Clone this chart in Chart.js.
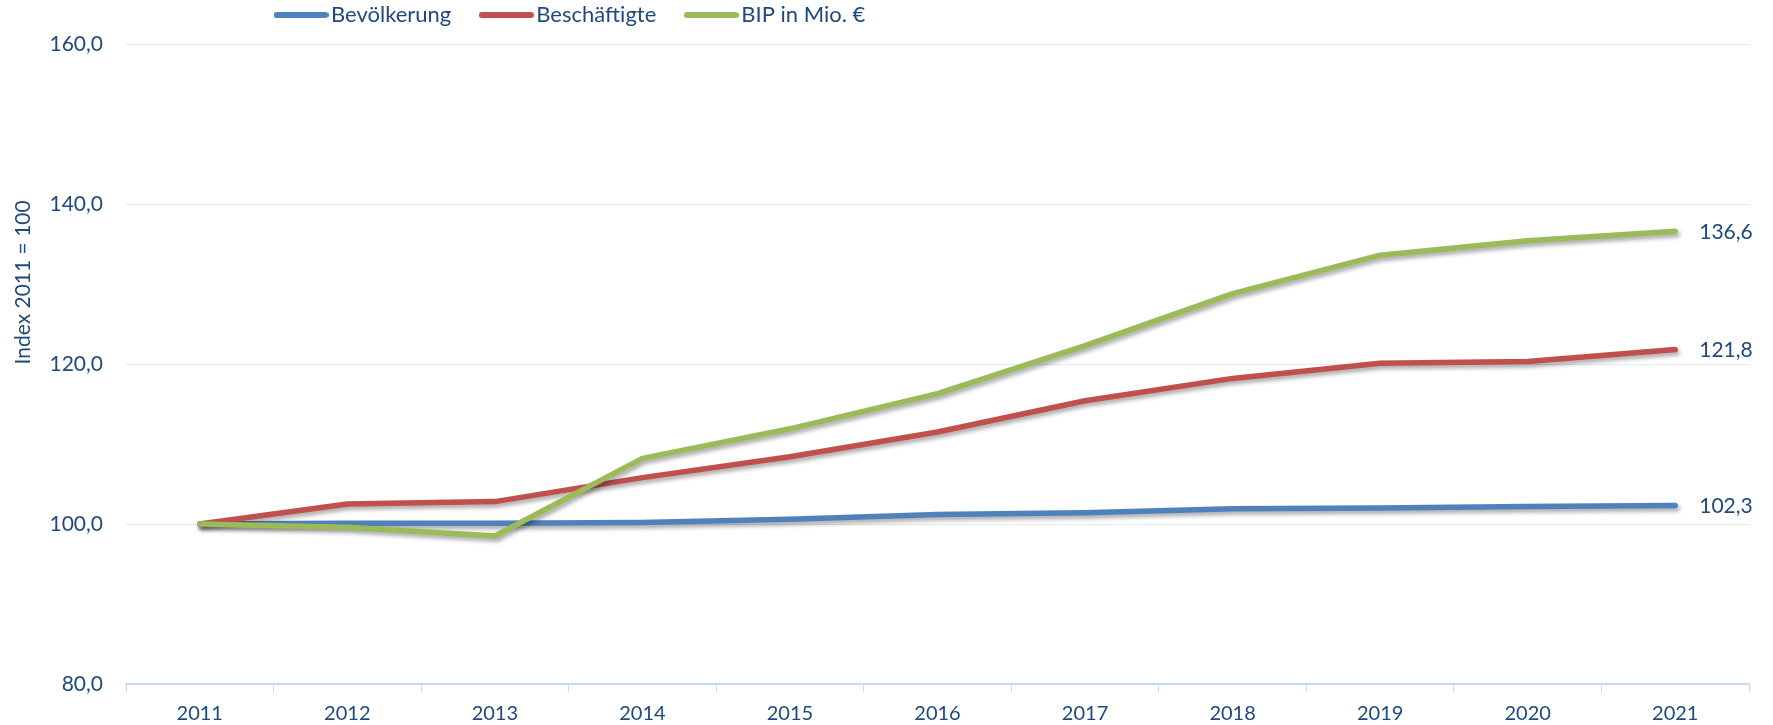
<!DOCTYPE html>
<html>
<head>
<meta charset="utf-8">
<script src="https://cdn.jsdelivr.net/npm/chart.js@4/dist/chart.umd.min.js"></script>
<style>
  html, body { margin: 0; padding: 0; background: #ffffff; }
  #wrap { width: 1773px; height: 725px; }
</style>
</head>
<body>
<div id="wrap"><canvas id="c" width="1773" height="725"></canvas></div>
<script>
// ---- data ----
const categories = ['2011','2012','2013','2014','2015','2016','2017','2018','2019','2020','2021'];
const seriesNames = ['Bevölkerung', 'Beschäftigte', 'BIP in Mio. €'];
const bevoelkerung = [100.0, 100.1, 100.1, 100.2, 100.6, 101.2, 101.4, 101.9, 102.0, 102.2, 102.3];
const beschaeftigte = [100.0, 102.5, 102.8, 105.8, 108.4, 111.5, 115.4, 118.2, 120.1, 120.3, 121.8];
const bip = [100.0, 99.6, 98.5, 108.2, 111.9, 116.3, 122.3, 128.8, 133.6, 135.4, 136.6];
const yTicks = [80, 100, 120, 140, 160];
const yAxisTitle = 'Index 2011 = 100';

const TEXT = '#1F497D';
const COLORS = ['#4F81BD', '#C0504D', '#9BBB59'];
const fmt = v => v.toFixed(1).replace('.', ',');

// legend marker: a thick line with round caps
function lineMarker(color) {
  const cv = document.createElement('canvas');
  cv.width = 55; cv.height = 8;
  const c = cv.getContext('2d');
  c.strokeStyle = color;
  c.lineWidth = 6;
  c.lineCap = 'round';
  c.beginPath();
  c.moveTo(3, 4);
  c.lineTo(52, 4);
  c.stroke();
  return cv;
}

const shadowPlugin = {
  id: 'lineShadow',
  beforeDatasetDraw(chart) {
    const ctx = chart.ctx;
    ctx.save();
    ctx.shadowColor = 'rgba(0,0,0,0.35)';
    ctx.shadowBlur = 4;
    ctx.shadowOffsetX = 2;
    ctx.shadowOffsetY = 3;
  },
  afterDatasetDraw(chart) {
    chart.ctx.restore();
  }
};

const endLabels = {
  id: 'endLabels',
  afterDatasetsDraw(chart) {
    const ctx = chart.ctx;
    ctx.save();
    ctx.font = '21px Lato';
    ctx.fillStyle = TEXT;
    ctx.textAlign = 'left';
    ctx.textBaseline = 'middle';
    chart.data.datasets.forEach((ds, i) => {
      const meta = chart.getDatasetMeta(i);
      const pt = meta.data[meta.data.length - 1];
      ctx.fillText(fmt(ds.data[ds.data.length - 1]), pt.x + 24, pt.y + 1);
    });
    ctx.restore();
  }
};

const axisTitle = {
  id: 'axisTitle',
  afterDraw(chart) {
    const ctx = chart.ctx;
    const y = chart.scales.y;
    ctx.save();
    ctx.font = '21px Lato';
    ctx.fillStyle = TEXT;
    ctx.textAlign = 'center';
    ctx.textBaseline = 'middle';
    ctx.translate(23, y.getPixelForValue(130.2));
    ctx.rotate(-Math.PI / 2);
    ctx.fillText(yAxisTitle, 0, 0);
    ctx.restore();
  }
};

const legendPos = {
  id: 'legendPos',
  afterLayout(chart) {
    const lg = chart.legend;
    lg.top = -32;
    lg.left = 246;
  }
};

const markers = COLORS.map(lineMarker);

new Chart(document.getElementById('c'), {
  type: 'line',
  data: {
    labels: categories,
    datasets: [
      { label: seriesNames[0], data: bevoelkerung, borderColor: COLORS[0], backgroundColor: COLORS[0], borderWidth: 5.5, pointStyle: markers[0], order: 2 },
      { label: seriesNames[1], data: beschaeftigte, borderColor: COLORS[1], backgroundColor: COLORS[1], borderWidth: 5.5, pointStyle: markers[1], order: 1 },
      { label: seriesNames[2], data: bip, borderColor: COLORS[2], backgroundColor: COLORS[2], borderWidth: 5.5, pointStyle: markers[2], order: 0 }
    ]
  },
  options: {
    responsive: false,
    animation: false,
    devicePixelRatio: 1,
    layout: { padding: { left: 0, right: 24, top: -24, bottom: 0 } },
    elements: {
      line: { tension: 0, borderCapStyle: 'round', borderJoinStyle: 'round', fill: false },
      point: { radius: 0, hoverRadius: 0 }
    },
    plugins: {
      tooltip: { enabled: false },
      legend: {
        position: 'top',
        align: 'start',
        labels: {
          font: { family: 'Lato', size: 22 },
          color: TEXT,
          usePointStyle: true,
          pointStyleWidth: 38,
          boxWidth: 38,
          padding: 36,
          sort: (a, b) => a.datasetIndex - b.datasetIndex
        }
      }
    },
    scales: {
      x: {
        offset: true,
        grid: { offset: true, drawOnChartArea: false, drawTicks: true, tickLength: 8, color: '#C9D9EE', lineWidth: 1 },
        border: { display: true, color: '#C9D9EE', width: 2 },
        ticks: { color: TEXT, font: { family: 'Lato', size: 20 }, padding: 10, maxRotation: 0 },
        afterFit(s) { s.height = 41; }
      },
      y: {
        min: 80,
        max: 160,
        afterBuildTicks(s) { s.ticks = yTicks.map(v => ({ value: v })); },
        grid: { drawTicks: false, color: '#E1E9F4', lineWidth: 1 },
        border: { display: false },
        ticks: { color: TEXT, font: { family: 'Lato', size: 21 }, padding: 23, callback: v => fmt(v) },
        afterFit(s) { s.width = 126; }
      }
    }
  },
  plugins: [shadowPlugin, endLabels, axisTitle, legendPos]
});
</script>
</body>
</html>
